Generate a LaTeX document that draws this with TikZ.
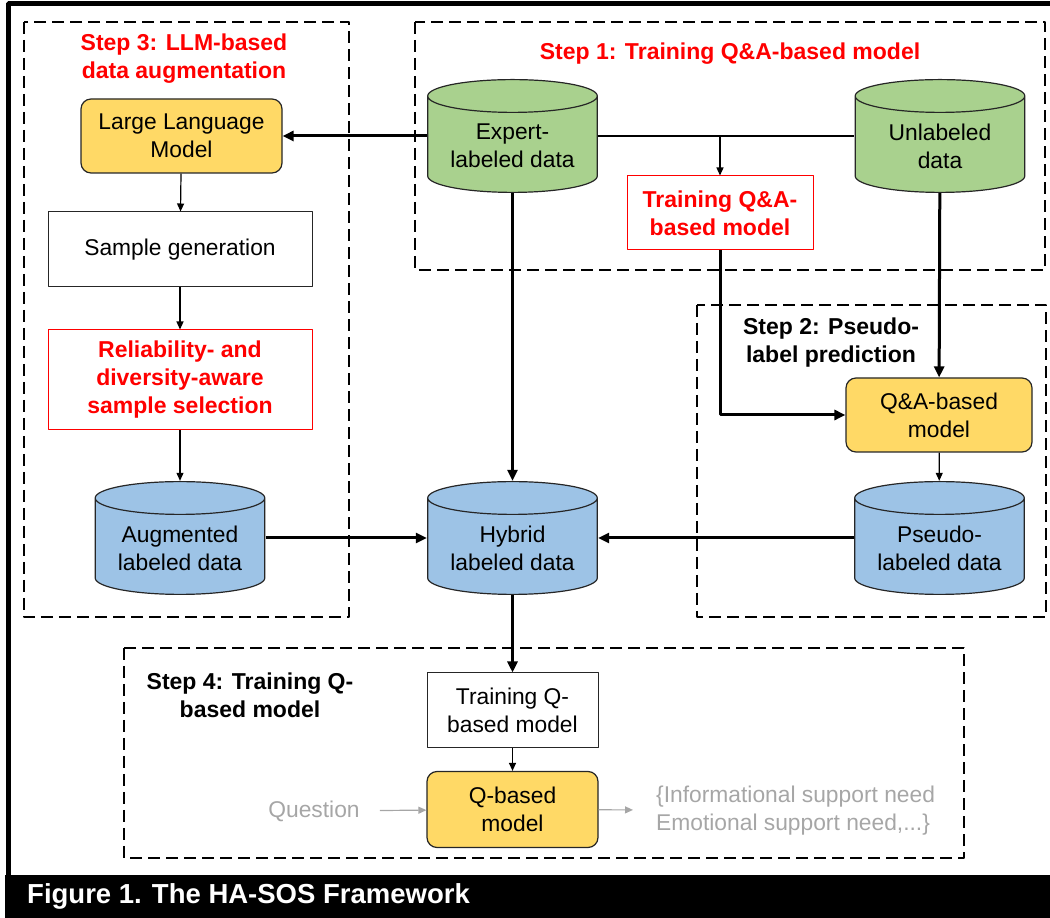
\documentclass[tikz,border=0pt]{standalone}
\usepackage{fontspec}
\setmainfont{Liberation Sans}
\usetikzlibrary{arrows.meta}

\definecolor{modelyellow}{HTML}{FFD966}
\definecolor{datagreen}{HTML}{A9D18E}
\definecolor{datablue}{HTML}{9DC3E6}
\definecolor{stepred}{HTML}{FF0000}
\definecolor{hintgray}{HTML}{A6A6A6}

\tikzset{
  stepframe/.style={draw,line width=1.8bp,dash pattern=on 12bp off 6bp},
  steptitle/.style={font=\fontsize{23bp}{28bp}\selectfont\bfseries,align=center,inner sep=0bp},
  database/.style={rectangle,minimum width=171bp,minimum height=114bp,inner sep=0bp,
    path picture={
      \begin{scope}[shift={(path picture bounding box.center)}]
      \fill [#1] (-84.8bp,40bp) -- (-84.8bp,-40bp) arc[start angle=180,end angle=360,x radius=84.8bp,y radius=16.4bp]
        -- (84.8bp,40bp) arc[start angle=0,end angle=180,x radius=84.8bp,y radius=16.4bp] -- cycle;
      \draw [black!85,line width=1.2bp] (-84.8bp,40bp) -- (-84.8bp,-40bp) arc[start angle=180,end angle=360,x radius=84.8bp,y radius=16.4bp]
        -- (84.8bp,40bp) arc[start angle=0,end angle=180,x radius=84.8bp,y radius=16.4bp]
        (84.8bp,40bp) arc[start angle=0,end angle=-180,x radius=84.8bp,y radius=16.4bp];
      \end{scope}}},
  dbtext/.style={label={[align=center,yshift=-10bp]center:#1}},
  modelbox/.style={rectangle,rounded corners=10bp,draw=black!85,line width=1.2bp,fill=modelyellow,
    align=center,inner sep=0bp},
  plainbox/.style={rectangle,draw=black!85,line width=1bp,fill=white,align=center,inner sep=0bp},
  redbox/.style={plainbox,draw=stepred,text=stepred,font=\fontsize{23bp}{28bp}\selectfont\bfseries},
  bigarrow/.style={line width=3bp,->},
  smallarrow/.style={line width=1.2bp,-{Triangle[length=8bp,width=7bp]}},
  grayarrow/.style={hintgray,line width=1.2bp,-{Triangle[length=8bp,width=7bp]}},
}

\begin{document}
\begin{tikzpicture}[>={Triangle[length=11bp,width=10bp]},line join=bevel,font=\fontsize{22.8bp}{28bp}\selectfont]
\useasboundingbox (0bp,0bp) rectangle (1050bp,918bp);
%%
\draw [line width=5bp] (8bp,43bp) -- (8bp,914bp) -- (1052bp,914bp);
\fill [black] (5bp,0bp) rectangle (1052bp,43bp);
\node (node_caption) at (27bp,21.5bp) [anchor=west,inner sep=0bp,text=white,font=\fontsize{27.5bp}{30bp}\selectfont\bfseries] {Figure 1. The HA-SOS Framework};
%
\draw [stepframe] (24bp,896bp) rectangle (349bp,301bp);
\draw [stepframe] (415bp,896bp) rectangle (1045bp,648bp);
\draw [stepframe] (697bp,613bp) rectangle (1046bp,301bp);
\draw [stepframe] (124bp,270bp) rectangle (964bp,60bp);
%
\node (node_title3) at (184bp,859.5bp) [steptitle,text=stepred] {Step 3: LLM-based\\data augmentation};
\node (node_title1) at (730bp,864bp) [steptitle,text=stepred] {Step 1: Training Q\&A-based model};
\node (node_title2) at (831bp,575bp) [steptitle] {Step 2: Pseudo-\\label prediction};
\node (node_title4) at (250bp,222.5bp) [steptitle] {Step 4: Training Q-\\based model};
%
\node (node_llm) at (181.5bp,782bp) [modelbox,minimum width=201bp,minimum height=74bp] {Large Language\\Model};
\node (node_sample) at (180bp,668.5bp) [plainbox,minimum width=264bp,minimum height=75bp] {Sample generation};
\node (node_select) at (180bp,538bp) [redbox,minimum width=264bp,minimum height=100bp] {Reliability- and\\diversity-aware\\sample selection};
\node (node_aug) at (180bp,380bp) [database=datablue,dbtext={Augmented\\labeled data}] {};
\node (node_expert) at (512.5bp,782bp) [database=datagreen,dbtext={Expert-\\labeled data}] {};
\node (node_unlabeled) at (940bp,782bp) [database=datagreen,dbtext={Unlabeled\\data}] {};
\node (node_tqa) at (720bp,705bp) [redbox,minimum width=186bp,minimum height=74bp] {Training Q\&A-\\based model};
\node (node_qam) at (939bp,503bp) [modelbox,minimum width=186bp,minimum height=74bp] {Q\&A-based\\model};
\node (node_pseudo) at (939.5bp,380bp) [database=datablue,dbtext={Pseudo-\\labeled data}] {};
\node (node_hybrid) at (512.5bp,380bp) [database=datablue,dbtext={Hybrid\\labeled data}] {};
\node (node_tqb) at (512.5bp,207.5bp) [plainbox,minimum width=171bp,minimum height=75bp] {Training Q-\\based model};
\node (node_qbm) at (512.5bp,108.5bp) [modelbox,minimum width=171bp,minimum height=76bp] {Q-based\\model};
\node (node_question) at (314bp,107bp) [inner sep=0bp,text=hintgray] {Question};
\node (node_output) at (656bp,107.5bp) [anchor=west,inner sep=0bp,align=left,text=hintgray] {\{Informational support need\\Emotional support need,...\}};
%
\draw [bigarrow] (node_expert) -- (node_llm);
\draw [line width=1.2bp] (node_expert) -- (node_unlabeled);
\draw [smallarrow] (node_expert -| node_tqa) -- (node_tqa);
\draw [bigarrow] (node_expert) -- (node_hybrid);
\draw [bigarrow] (node_tqa) |- (node_qam);
\draw [bigarrow] (node_unlabeled) -- (node_qam);
\draw [smallarrow] (node_qam) -- (node_pseudo);
\draw [smallarrow] (node_llm) -- (node_sample);
\draw [smallarrow] (node_sample) -- (node_select);
\draw [smallarrow] (node_select) -- (node_aug);
\draw [bigarrow] (node_aug) -- (node_hybrid);
\draw [bigarrow] (node_pseudo) -- (node_hybrid);
\draw [bigarrow] (node_hybrid) -- (node_tqb);
\draw [smallarrow] (node_tqb) -- (node_qbm);
\draw [grayarrow,shorten <=20bp] (node_question) -- (node_qbm);
\draw [grayarrow,shorten >=23bp] (node_qbm) -- (node_output);
%
\end{tikzpicture}
\end{document}
